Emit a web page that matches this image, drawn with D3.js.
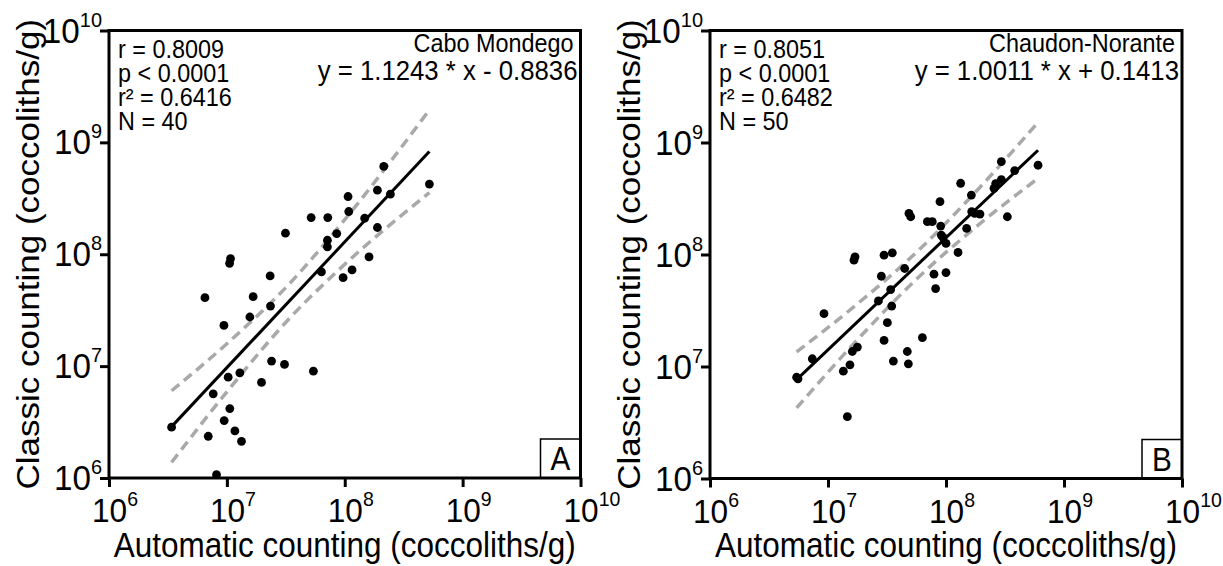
<!DOCTYPE html>
<html><head><meta charset="utf-8">
<script src="https://cdn.jsdelivr.net/npm/d3@7"></script>
<style>
body{margin:0;background:#fff}
svg{display:block}
text{font-family:"Liberation Sans",Arial,Helvetica,sans-serif;fill:#000}
</style>
</head><body>
<svg id="chart" width="1223" height="566"></svg>
<script>
// ---------- DATA (values stored as log10 of coccoliths/g) ----------
const tickExponents = [6, 7, 8, 9, 10];

const caboAuto = [6.531,6.884,7.011,7.110,7.025,6.977,7.068,6.842,7.124,6.912,
  7.294,7.379,7.489,7.734,6.975,6.814,7.195,7.223,7.370,7.367,
  7.031,7.023,7.497,7.802,7.986,8.062,8.206,7.715,7.856,7.853,
  7.853,7.932,8.034,8.169,8.277,8.331,8.277,8.387,8.718,8.028];
const caboClassic = [6.454,6.752,6.901,6.940,6.621,6.513,6.421,6.373,6.328,6.030,
  6.854,7.045,7.015,6.955,7.364,7.612,7.439,7.621,7.537,7.806,
  7.961,7.919,8.188,7.842,7.791,7.860,7.976,8.328,8.328,8.125,
  8.066,8.185,8.382,8.322,8.239,8.785,8.573,8.537,8.627,8.516];

const chaudAuto = [6.734,6.746,6.867,6.966,7.130,7.186,7.206,7.249,7.164,7.220,
  7.229,7.475,7.545,7.452,7.650,7.427,7.531,7.540,7.503,7.475,
  7.554,7.672,7.681,7.800,7.686,7.701,7.842,7.884,7.955,7.949,
  7.960,7.975,8.000,7.898,7.912,8.000,8.102,8.175,8.218,8.243,
  8.288,8.520,8.469,8.582,8.780,8.124,8.215,8.421,8.469,8.407];
const chaudClassic = [6.904,6.890,7.069,7.472,6.958,7.015,7.134,7.173,6.552,7.949,
  7.979,7.994,8.015,7.806,7.875,7.585,7.687,7.540,7.391,7.233,
  7.048,7.134,7.024,7.257,8.367,8.337,8.293,8.293,8.254,8.472,
  8.173,8.152,8.099,7.824,7.696,7.839,8.018,8.233,8.382,8.367,
  8.361,8.337,8.830,8.749,8.797,8.636,8.531,8.633,8.669,8.591];

// regression fits (log-log) as printed on the chart, and x extent of the line
const caboFit = [1.1243, -0.8836];
const chaudFit = [1.0011, 0.1413];
const caboFitRange = [6.531, 8.718];
const chaudFitRange = [6.734, 8.780];

// confidence bands (log10 x, lower y, upper y)
const caboBandX = [6.531, 7.0, 7.534, 8.0, 8.718];
const caboBandLo = [6.14, 6.77, 7.43, 7.91, 8.55];
const caboBandHi = [6.78, 7.20, 7.74, 8.31, 9.29];
const chaudBandX = [6.734, 7.25, 7.76, 8.27, 8.78];
const chaudBandLo = [6.63, 7.24, 7.79, 8.26, 8.68];
const chaudBandHi = [7.13, 7.56, 8.03, 8.58, 9.18];

const caboStats = ["r = 0.8009", "p < 0.0001", "r\u00B2 = 0.6416", "N = 40"];
const chaudStats = ["r = 0.8051", "p < 0.0001", "r\u00B2 = 0.6482", "N = 50"];
const siteNames = ["Cabo Mondego", "Chaudon-Norante"];
const equations = ["y = 1.1243 * x - 0.8836", "y = 1.0011 * x + 0.1413"];
const panelLetters = ["A", "B"];
const xTitle = "Automatic counting (coccoliths/g)";
const yTitle = "Classic counting (coccoliths/g)";

// ---------- DRAW ----------
const svg = d3.select("#chart");
const SX = 0.9; // horizontal condensation of the lettering

const panels = [
  {left:109, right:580.5, top:30.5, bottom:478, auto:caboAuto, classic:caboClassic, fit:caboFit, fitRange:caboFitRange,
   bx:caboBandX, blo:caboBandLo, bhi:caboBandHi, stats:caboStats, name:siteNames[0], eq:equations[0], letter:panelLetters[0]},
  {left:710, right:1182, top:30.5, bottom:478.5, auto:chaudAuto, classic:chaudClassic, fit:chaudFit, fitRange:chaudFitRange,
   bx:chaudBandX, blo:chaudBandLo, bhi:chaudBandHi, stats:chaudStats, name:siteNames[1], eq:equations[1], letter:panelLetters[1]}
];

function sqText(g, x, y, str, size, anchor, sx) {
  return g.append("text")
    .attr("transform", `translate(${x},${y}) scale(${sx || SX},1)`)
    .attr("text-anchor", anchor || "start")
    .style("font-size", size + "px")
    .text(str);
}

panels.forEach(p => {
  const domain = [10 ** tickExponents[0], 10 ** tickExponents[tickExponents.length - 1]];
  const x = d3.scaleLog().domain(domain).range([p.left, p.right]);
  const y = d3.scaleLog().domain(domain).range([p.bottom, p.top]);
  const g = svg.append("g");
  const tickVals = tickExponents.map(e => 10 ** e);

  // axes (ticks outward)
  const ax = g.append("g").attr("transform", `translate(0,${p.bottom})`)
    .call(d3.axisBottom(x).tickValues(tickVals).tickSize(9).tickFormat(""));
  const ay = g.append("g").attr("transform", `translate(${p.left},0)`)
    .call(d3.axisLeft(y).tickValues(tickVals).tickSize(9).tickFormat(""));
  [ax, ay].forEach(a => {
    a.select(".domain").remove();
    a.selectAll(".tick line").attr("stroke", "#000").attr("stroke-width", 3);
  });

  // tick labels 10^n : big "10" centred on the tick (x axis), superscript hanging right
  tickExponents.forEach(e => {
    const tx = g.append("text")
      .attr("transform", `translate(${x(10 ** e) - 17},${p.bottom + 44}) scale(0.93,1)`)
      .attr("text-anchor", "start");
    tx.append("tspan").style("font-size", "34px").text("10");
    tx.append("tspan").style("font-size", "21px").attr("dy", -16).text(e);
    const ty = g.append("text")
      .attr("transform", `translate(${p.left - 7},${y(10 ** e) + 12}) scale(0.95,1)`)
      .attr("text-anchor", "end");
    ty.append("tspan").style("font-size", "35px").text("10");
    ty.append("tspan").style("font-size", "21px").attr("dy", -16).text(e);
  });

  // confidence bands
  const bandLine = d3.line().x(d => x(10 ** d[0])).y(d => y(10 ** d[1])).curve(d3.curveMonotoneX);
  [p.bhi, p.blo].forEach(arr => {
    g.append("path")
      .attr("d", bandLine(p.bx.map((v, i) => [v, arr[i]])))
      .attr("fill", "none").attr("stroke", "#a9a9a9")
      .attr("stroke-width", 3.5).attr("stroke-dasharray", "10,6");
  });

  // regression line
  const fitPts = p.fitRange.map(v => [v, p.fit[0] * v + p.fit[1]]);
  g.append("path").attr("d", d3.line().x(d => x(10 ** d[0])).y(d => y(10 ** d[1]))(fitPts))
    .attr("fill", "none").attr("stroke", "#000").attr("stroke-width", 3);

  // points
  g.append("g").selectAll("circle").data(p.auto.map((v, i) => [v, p.classic[i]]))
    .join("circle")
    .attr("cx", d => x(10 ** d[0])).attr("cy", d => y(10 ** d[1]))
    .attr("r", 4.4).attr("fill", "#000");

  // letter box
  g.append("rect").attr("x", p.right - 40).attr("y", p.bottom - 39)
    .attr("width", 40).attr("height", 39)
    .attr("fill", "#fff").attr("stroke", "#000").attr("stroke-width", 1.5);
  sqText(g, p.right - 20, p.bottom - 8, p.letter, 33, "middle");

  // frame
  g.append("rect").attr("x", p.left).attr("y", p.top)
    .attr("width", p.right - p.left).attr("height", p.bottom - p.top)
    .attr("fill", "none").attr("stroke", "#000").attr("stroke-width", 3);

  // stats text
  p.stats.forEach((s, i) => sqText(g, p.left + 9, p.top + 27 + i * 24, s, 26, "start"));
  sqText(g, p.right - 7, p.top + 21, p.name, 26, "end");
  sqText(g, p.right - 3, p.top + 49, p.eq, 28, "end", 0.92);

  // axis titles
  sqText(g, (p.left + p.right) / 2, 557, xTitle, 35, "middle");
  g.append("text")
    .attr("transform", `translate(${p.left - 70},${(p.top + p.bottom) / 2}) rotate(-90) scale(1,${SX})`)
    .attr("text-anchor", "middle").style("font-size", "35px").text(yTitle);
});
</script>
</body></html>
